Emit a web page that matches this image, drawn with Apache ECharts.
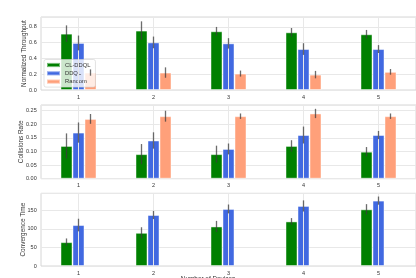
<!DOCTYPE html>
<html><head><meta charset="utf-8">
<script src="https://cdn.jsdelivr.net/npm/echarts@6/dist/echarts.min.js"></script>
<style>html,body{margin:0;padding:0;background:#fff}#c{width:416px;height:278px}</style>
</head><body><div id="c"></div>
<script>
const categories = ['1','2','3','4','5'];
const methods = ['CL-DDQL','DDQL','Random'];
const colors = ['#008000','#4169E1','#FFA07A'];

const throughputMean = {
  'CL-DDQL': [0.714, 0.753, 0.744, 0.731, 0.706],
  'DDQL':    [0.596, 0.603, 0.591, 0.519, 0.519],
  'Random':  [0.221, 0.221, 0.208, 0.195, 0.230]
};
const throughputErr = {
  'CL-DDQL': [0.105, 0.117, 0.055, 0.055, 0.055],
  'DDQL':    [0.094, 0.074, 0.066, 0.074, 0.050],
  'Random':  [0.040, 0.066, 0.038, 0.047, 0.036]
};
const collisionMean = {
  'CL-DDQL': [0.120, 0.090, 0.090, 0.120, 0.099],
  'DDQL':    [0.169, 0.140, 0.109, 0.160, 0.160],
  'Random':  [0.219, 0.229, 0.229, 0.239, 0.229]
};
const collisionErr = {
  'CL-DDQL': [0.046, 0.037, 0.031, 0.021, 0.017],
  'DDQL':    [0.037, 0.030, 0.020, 0.031, 0.015],
  'Random':  [0.018, 0.020, 0.010, 0.017, 0.010]
};
const convergenceMean = {
  'CL-DDQL': [64.3, 89.5, 106.6, 120.2, 152.8],
  'DDQL':    [110.4, 137.5, 153.8, 161.9, 176.3],
  'Random':  [null, null, null, null, null]
};
const convergenceErr = {
  'CL-DDQL': [10, 15, 15, 9, 14],
  'DDQL':    [17, 11, 12, 15, 11],
  'Random':  [null, null, null, null, null]
};
const yTitles = ['Normalized Throughput', 'Collisions Rate', 'Convergence Time'];
const xTitle = 'Number of Devices';

const panels = [
  {mean: throughputMean, err: throughputErr, max: 0.925, interval: 0.2, dec: 1, top: 17, height: 73, gap: 13.8},
  {mean: collisionMean, err: collisionErr, max: 0.27, interval: 0.05, dec: 2, top: 105, height: 73.7, gap: 17.1},
  {mean: convergenceMean, err: convergenceErr, max: 196, interval: 50, dec: 0, top: 193.3, height: 72.7, gap: 14.5}
];

const FONT = 'Liberation Sans, Arial, sans-serif';
const gridColor = '#e8e8e8';
const grids = [], xAxes = [], yAxes = [], series = [];
const BW = 12;

panels.forEach((p, i) => {
  grids.push({left: 41, right: 0, top: p.top, height: p.height, containLabel: false, outerBoundsMode: 'none',
    show: true, borderColor: '#d6d6d6', borderWidth: 1, backgroundColor: 'transparent'});
  xAxes.push({type: 'category', gridIndex: i, data: categories,
    axisLine: {show: false}, axisTick: {show: false},
    axisLabel: {fontFamily: FONT, fontSize: 5.5, color: '#333', margin: 4},
    splitLine: {show: false}});
  yAxes.push({type: 'value', gridIndex: i, min: 0, max: p.max, interval: p.interval,
    name: yTitles[i], nameLocation: 'middle', nameGap: p.gap, nameMoveOverlap: false,
    nameTextStyle: {fontFamily: FONT, fontSize: 6.4, color: '#333'},
    axisLine: {show: false}, axisTick: {show: false},
    axisLabel: {fontFamily: FONT, fontSize: 5.5, color: '#333', margin: 4.3, showMaxLabel: false,
      formatter: v => v.toFixed(p.dec)},
    splitLine: {show: true, lineStyle: {color: gridColor, width: 1}}});
  series.push({type: 'line', xAxisIndex: i, yAxisIndex: i, data: [], z: 0, silent: true,
    markLine: {silent: true, symbol: 'none', label: {show: false}, animation: false,
      lineStyle: {color: gridColor, width: 1, type: 'solid'},
      data: categories.map(c => ({xAxis: c}))}});
  methods.forEach((m, k) => {
    series.push({type: 'bar', name: m, xAxisIndex: i, yAxisIndex: i, data: p.mean[m],
      barWidth: BW, barGap: '0%', z: 2,
      itemStyle: {color: colors[k], borderColor: 'rgba(255,255,255,0.45)', borderWidth: 1}});
  });
  const errData = [];
  methods.forEach((m, k) => {
    p.mean[m].forEach((v, j) => {
      if (v == null) return;
      errData.push([j, v - p.err[m][j], v + p.err[m][j], k - 1]);
    });
  });
  series.push({type: 'custom', xAxisIndex: i, yAxisIndex: i, z: 5, silent: true,
    encode: {x: 0, y: [1, 2]}, data: errData,
    renderItem: (params, api) => {
      const lo = api.coord([api.value(0), api.value(1)]);
      const hi = api.coord([api.value(0), api.value(2)]);
      const x = lo[0] + api.value(3) * BW;
      return {type: 'line', shape: {x1: x, y1: lo[1], x2: x, y2: hi[1]},
        style: {stroke: 'rgba(60,60,60,0.75)', lineWidth: 1.3}};
    }});
});

const chart = echarts.init(document.getElementById('c'), null, {renderer: 'canvas'});
chart.setOption({
  animation: false,
  backgroundColor: '#fff',
  grid: grids, xAxis: xAxes, yAxis: yAxes, series: series,
  legend: {data: methods, orient: 'vertical', left: 44, top: 59.5, icon: 'rect',
    itemWidth: 13, itemHeight: 4.2, itemGap: 1.3,
    textStyle: {fontFamily: FONT, fontSize: 5.8, lineHeight: 7, color: '#333'},
    backgroundColor: 'rgba(255,255,255,0.8)', borderColor: '#d0d0d0', borderWidth: 0.6, borderRadius: 2,
    padding: [2, 5, 2, 2]},
  graphic: [{type: 'text', left: 'center', top: 276, style: {text: xTitle, fontFamily: FONT, fontSize: 6.4, fill: '#333'}}]
});
</script></body></html>
